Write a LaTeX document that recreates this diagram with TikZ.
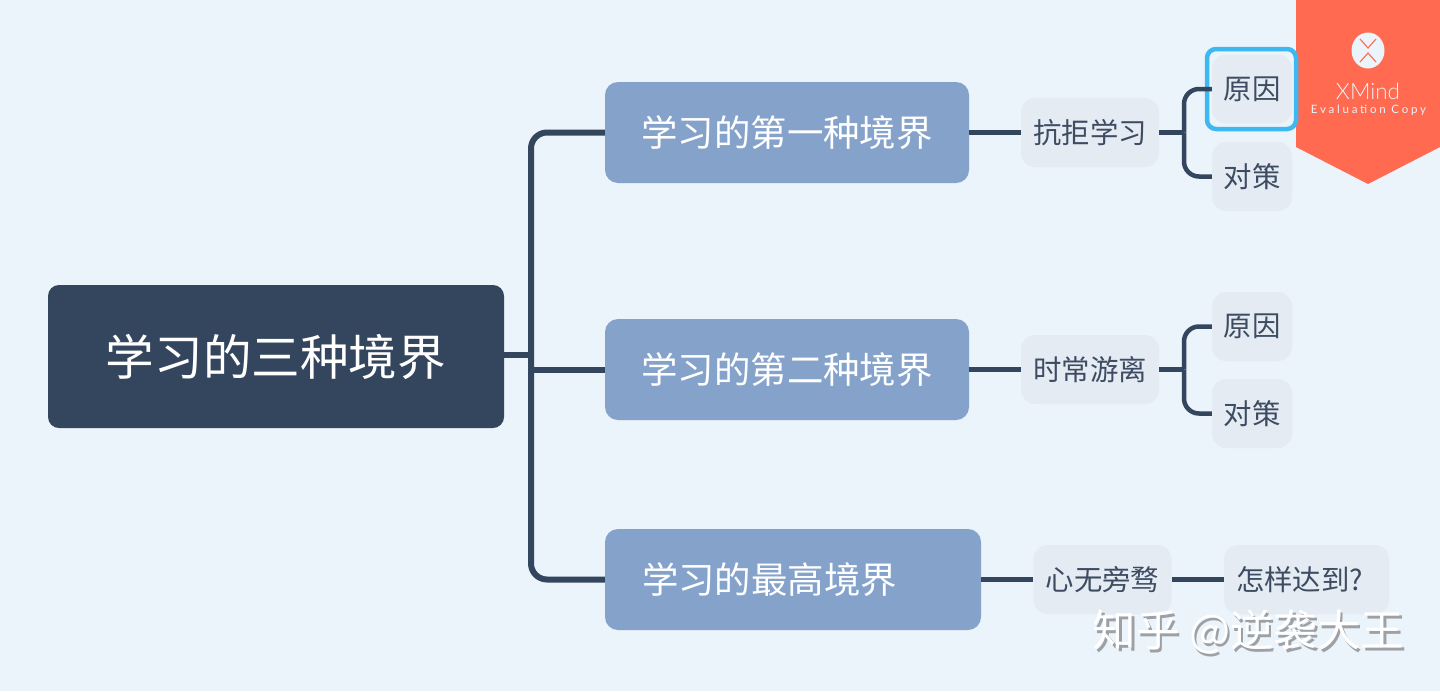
\documentclass[tikz,border=0pt]{standalone}
\usepackage{fontspec}
\setmainfont{Noto Sans CJK SC}[Scale=1]
\newfontfamily\badgefont{Lato Light}
\newfontfamily\badgespaced{Lato}[LetterSpace=24]
\definecolor{bgc}{HTML}{EBF3FB}
\definecolor{darkc}{HTML}{34465E}
\definecolor{bluec}{HTML}{85A2CA}
\definecolor{lightc}{HTML}{E5EBF3}
\definecolor{subtext}{HTML}{3D4C62}
\definecolor{badgec}{HTML}{FF6A50}
\definecolor{selc}{HTML}{3DB8F0}
\definecolor{markshadow}{HTML}{9DA1A6}
\tikzset{
  rootbox/.style={fill=darkc,rounded corners=11pt,text=white,inner sep=0pt,font=\fontsize{48.6}{52}\selectfont,minimum width=456pt,minimum height=143pt},
  branchbox/.style={fill=bluec,rounded corners=13pt,text=white,inner sep=0pt,font=\fontsize{36.4}{40}\selectfont,minimum width=364pt,minimum height=101pt},
  subbox/.style={fill=lightc,rounded corners=14pt,text=subtext,inner sep=0pt,font=\fontsize{28.4}{32}\selectfont,minimum height=69pt},
  trunkline/.style={draw=darkc,line width=6pt,rounded corners=16pt},
  subline/.style={draw=darkc,line width=4.5pt,rounded corners=15pt},
  markfont/.style={font=\fontsize{43.5}{46}\selectfont,inner sep=0pt}
}
\begin{document}
\begin{tikzpicture}[x=1pt,y=-1pt]
\useasboundingbox (0,0) rectangle (1440,691);
\fill[bgc] (0,0) rectangle (1440,691);
% badge
\fill[badgec] (1296,0) -- (1440,0) -- (1440,147) -- (1368,184) -- (1296,147) -- cycle;
\fill[bgc] (1368,50.5) ellipse (16.5 and 18);
\draw[badgec,line width=1.1pt] (1360,39) -- (1368,48) -- (1376,39) (1360,62) -- (1368,53) -- (1376,62);
\node[text=bgc,font=\badgefont\fontsize{22.5}{25}\selectfont,inner sep=0pt] (bname) at (1368,91) {XMind};
\node[text=bgc,font=\badgespaced\fontsize{11.5}{13}\selectfont,inner sep=0pt] (bcopy) at (1368.5,110) {Evaluation Copy};
% nodes
\node[rootbox] (root) at (276,356.5) {学习的三种境界};
\node[branchbox] (b1) at (787,132.5) {学习的第一种境界};
\node[branchbox] (b2) at (787,369.5) {学习的第二种境界};
\node[branchbox,minimum width=376pt,text width=302pt,align=left] (b3) at (793,579.5) {学习的最高境界};
\node[subbox,minimum width=138pt] (s1) at (1090,132.5) {抗拒学习};
\node[subbox,minimum width=138pt] (s2) at (1090,369.5) {时常游离};
\node[subbox,minimum width=138pt] (s3) at (1102.5,579.5) {心无旁骛};
\node[subbox,minimum width=80pt] (l1) at (1252,89) {原因};
\node[subbox,minimum width=80pt] (l2) at (1252,176.5) {对策};
\node[subbox,minimum width=80pt] (l3) at (1252,326.5) {原因};
\node[subbox,minimum width=80pt] (l4) at (1252,413.5) {对策};
\node[subbox,minimum width=165pt,text width=141pt,align=left] (l5) at (1306.5,579.5) {怎样达到?};
% selection frame
\node[draw=selc,line width=4.5pt,rounded corners=9pt,minimum width=89pt,minimum height=80pt,inner sep=0pt] (sel) at (1251.5,89) {};
% connectors
\coordinate (t) at (531,355);
\coordinate (j1) at (1184,132.5);
\coordinate (j2) at (1184,369.5);
\draw[trunkline] (root.east |- t) -- (t);
\draw[trunkline] (b1.west) -| (t);
\draw[trunkline] (b3.west) -| (t);
\draw[trunkline] (b2.west) -- (t |- b2.west);
\draw[subline] (b1.east) -- (s1.west);
\draw[subline] (b2.east) -- (s2.west);
\draw[subline] (b3.east) -- (s3.west);
\draw[subline] (s3.east) -- (l5.west);
\draw[subline] (s1.east) -- (j1);
\draw[subline] (s2.east) -- (j2);
\draw[subline] (l1.west) -| (j1);
\draw[subline] (l2.west) -| (j1);
\draw[subline] (l3.west) -| (j2);
\draw[subline] (l4.west) -| (j2);
% watermark
\node[markfont,text=markshadow] (wm0) at (1251,634.5) {知乎 @逆袭大王};
\node[markfont,text=white] (wm) at (1248.5,632) {知乎 @逆袭大王};
\end{tikzpicture}
\end{document}
